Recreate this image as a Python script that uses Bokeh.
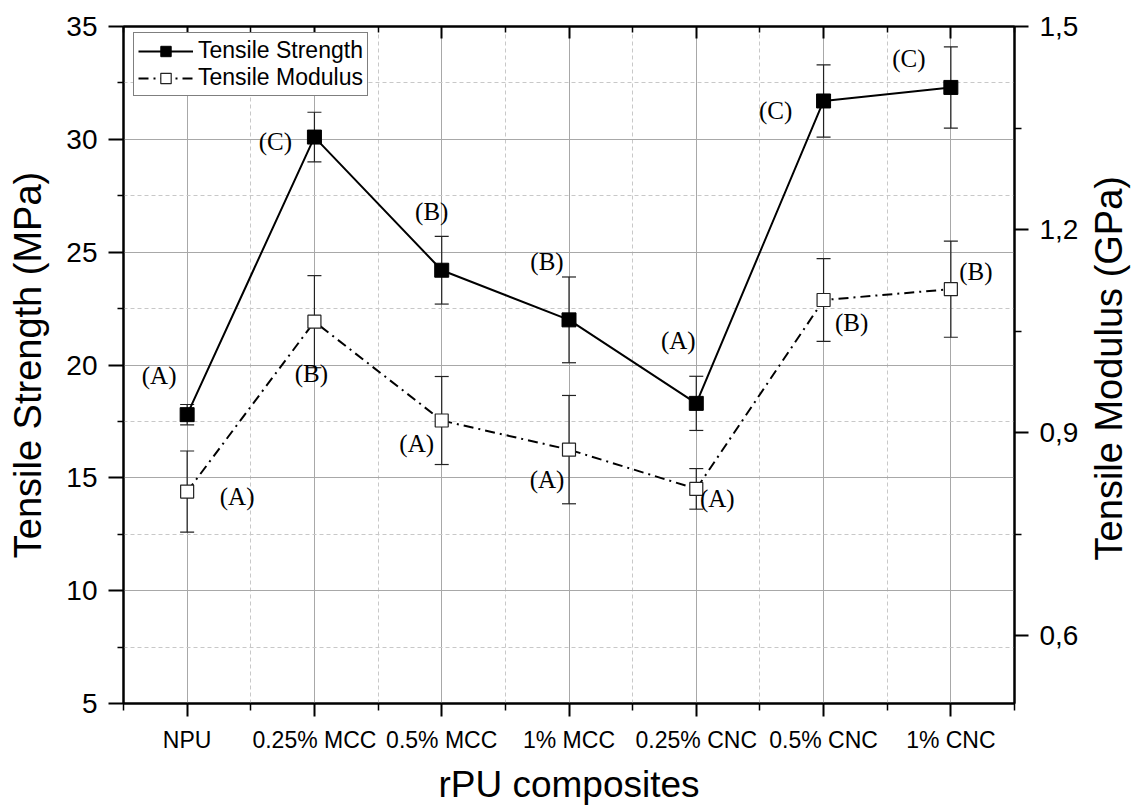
from bokeh.plotting import figure
from bokeh.layouts import row
from bokeh.models import (Range1d, LinearAxis, FixedTicker, Whisker, ColumnDataSource,
                          Legend, LegendItem, TeeHead, Div)
from bokeh.core.properties import value
from bokeh.embed import file_html
from bokeh.resources import INLINE

# ---------------- data ----------------
categories = ["NPU", "0.25% MCC", "0.5% MCC", "1% MCC", "0.25% CNC", "0.5% CNC", "1% CNC"]
strength = [17.8, 30.1, 24.2, 22.0, 18.3, 31.7, 32.3]          # MPa
strength_err = [0.45, 1.1, 1.5, 1.9, 1.2, 1.6, 1.8]
modulus = [0.813, 1.064, 0.918, 0.875, 0.817, 1.096, 1.112]    # GPa
modulus_err = [0.06, 0.068, 0.065, 0.08, 0.03, 0.061, 0.071]
strength_groups = ["A", "C", "B", "B", "A", "C", "C"]
modulus_groups = ["A", "B", "A", "A", "A", "B", "B"]
left_ticks = [5, 10, 15, 20, 25, 30, 35]
left_minor = [7.5, 12.5, 17.5, 22.5, 27.5, 32.5]
right_ticks = [0.6, 0.9, 1.2, 1.5]
right_minor = [0.75, 1.05, 1.35]
right_tick_labels = ["0,6", "0,9", "1,2", "1,5"]
right_title = "Tensile Modulus (GPa)"

# label placement (screen pixel offsets from each point)
strength_label_dx = [-28, -39, -10, -22, -18, -48, -42]
strength_label_dy = [-39, 4, -59, -58, -63, 10, -29]
modulus_label_dx = [50, -3, -25, -22, 21, 28, 25]
modulus_label_dy = [5, 52, 23, 30, 10, 22, -18]

xs = list(range(1, len(categories) + 1))
x_minor = [i + 0.5 for i in range(0, len(categories) + 1)]

SANS = "Liberation Sans"
TOTAL_W, H = 1135, 807
DIV_W = 50
W = TOTAL_W - DIV_W
BL, BR, BT, BB = 123, 71, 26, 96

src_s = ColumnDataSource(dict(
    x=xs, y=strength,
    up=[v + e for v, e in zip(strength, strength_err)],
    lo=[v - e for v, e in zip(strength, strength_err)],
    t=["(%s)" % g for g in strength_groups],
    dx=strength_label_dx, dy=strength_label_dy))
src_m = ColumnDataSource(dict(
    x=xs, y=modulus,
    up=[v + e for v, e in zip(modulus, modulus_err)],
    lo=[v - e for v, e in zip(modulus, modulus_err)],
    t=["(%s)" % g for g in modulus_groups],
    dx=modulus_label_dx, dy=modulus_label_dy))

p = figure(width=W, height=H, x_range=Range1d(0.5, len(categories) + 0.5),
           y_range=Range1d(5, 35), output_backend="svg", toolbar_location=None,
           min_border_left=BL, min_border_right=BR, min_border_top=BT, min_border_bottom=BB,
           background_fill_color="white", border_fill_color="white",
           outline_line_color="black", outline_line_width=2)
p.extra_y_ranges = {"mod": Range1d(0.5, 1.5)}

xticker = FixedTicker(ticks=xs, minor_ticks=x_minor)
lticker = FixedTicker(ticks=left_ticks, minor_ticks=left_minor)
rticker = FixedTicker(ticks=right_ticks, minor_ticks=right_minor)

common = dict(axis_line_color="black", major_tick_line_color="black",
              minor_tick_line_color="black", axis_line_width=2,
              major_tick_line_width=2, minor_tick_line_width=1.5,
              major_label_text_color="black", axis_label_text_color="black",
              axis_label_text_font=SANS, axis_label_text_font_style="normal",
              major_label_text_font=SANS)

# bottom axis
xa = p.xaxis[0]
xa.update(ticker=xticker,
          major_label_overrides={x: c for x, c in zip(xs, categories)},
          axis_label="rPU composites", axis_label_text_font_size="37px",
          axis_label_standoff=8, major_label_text_font_size="23px",
          major_label_standoff=10, major_tick_out=13, major_tick_in=0,
          minor_tick_out=7, minor_tick_in=0, **common)

# left axis
ya = p.yaxis[0]
ya.update(ticker=lticker, axis_label="Tensile Strength (MPa)",
          axis_label_text_font_size="38px", axis_label_standoff=14,
          major_label_text_font_size="28px", major_label_standoff=11,
          major_tick_out=15, major_tick_in=0, minor_tick_out=6, minor_tick_in=0, **common)

# right axis (its title is placed beside the plot so that it reads bottom-to-top)
ra = LinearAxis(y_range_name="mod", ticker=rticker,
                major_label_overrides={t: s for t, s in zip(right_ticks, right_tick_labels)},
                major_label_text_font_size="28px",
                major_label_standoff=11, major_tick_out=14, major_tick_in=0,
                minor_tick_out=7, minor_tick_in=0, **common)
p.add_layout(ra, "right")

# top axis (ticks only, inward)
ta = LinearAxis(ticker=xticker, major_label_overrides={x: "" for x in xs},
                major_label_text_font_size="0px", major_label_standoff=0,
                major_tick_in=12, major_tick_out=0, minor_tick_in=6, minor_tick_out=0,
                axis_line_color="black", major_tick_line_color="black",
                minor_tick_line_color="black",
                axis_line_width=2, major_tick_line_width=2, minor_tick_line_width=1.5)
p.add_layout(ta, "above")

# grids
for g in (p.xgrid[0], p.ygrid[0]):
    g.grid_line_color = "#a8a8a8"
    g.grid_line_width = 1
    g.minor_grid_line_color = "#c8c8c8"
    g.minor_grid_line_dash = "4 3"
    g.minor_grid_line_width = 1
p.xgrid[0].ticker = xticker
p.ygrid[0].ticker = lticker

# error bars
for src, rng in ((src_s, "default"), (src_m, "mod")):
    w = Whisker(source=src, base="x", upper="up", lower="lo", dimension="height",
                line_color="#222222", line_width=1.2, y_range_name=rng,
                upper_head=TeeHead(size=14, line_color="#222222", line_width=1.2),
                lower_head=TeeHead(size=14, line_color="#222222", line_width=1.2))
    p.add_layout(w)

# series
l1 = p.line("x", "y", source=src_s, line_color="black", line_width=2)
s1 = p.scatter("x", "y", source=src_s, marker="square", size=14,
               fill_color="black", line_color="black")
l2 = p.line("x", "y", source=src_m, y_range_name="mod", line_color="black",
            line_width=2, line_dash="10 5 2 5")
s2 = p.scatter("x", "y", source=src_m, y_range_name="mod", marker="square", size=13,
               fill_color="white", line_color="#222222", line_width=1.2)

# group letters
p.text("x", "y", text="t", source=src_s, x_offset="dx", y_offset="dy",
       text_font=value("Liberation Serif"), text_font_size="25px",
       text_align="center", text_baseline="middle", text_color="black")
p.text("x", "y", text="t", source=src_m, y_range_name="mod", x_offset="dx", y_offset="dy",
       text_font=value("Liberation Serif"), text_font_size="25px",
       text_align="center", text_baseline="middle", text_color="black")

legend = Legend(items=[LegendItem(label="Tensile Strength", renderers=[l1, s1]),
                       LegendItem(label="Tensile Modulus", renderers=[l2, s2])],
                location=(10, 607), margin=0, padding=4, spacing=0,
                glyph_width=55, glyph_height=26, label_height=26, label_standoff=5,
                label_text_font=SANS, label_text_font_size="23px",
                label_text_color="black",
                border_line_color="black", border_line_width=1,
                background_fill_color="white", background_fill_alpha=1)
p.add_layout(legend)

frame_mid = BT + (H - BT - BB) / 2
title_html = (
    '<div style="width:%dpx;height:%dpx;display:flex;align-items:center;'
    'justify-content:center;">'
    '<span style="writing-mode:vertical-rl;transform:rotate(180deg);'
    "font-family:'Liberation Sans';font-size:38px;color:black;white-space:nowrap;"
    'line-height:1.1;">%s</span></div>'
) % (DIV_W, int(2 * frame_mid), right_title)
div = Div(text=title_html, width=DIV_W, height=H, margin=0,
          styles={"background-color": "white"})

layout = row(p, div, spacing=0)
open("out.html", "w").write(file_html(layout, INLINE))
